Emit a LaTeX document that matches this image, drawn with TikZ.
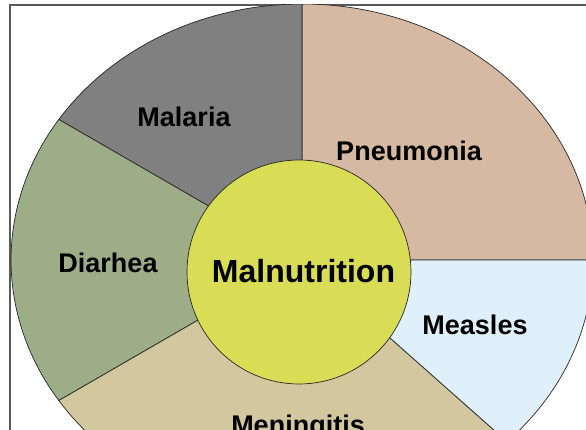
\documentclass[tikz,border=0pt]{standalone}
\usepackage{fontspec}
\setmainfont{Liberation Sans}
\definecolor{pneumoniaC}{HTML}{D5B9A2}
\definecolor{malariaC}{HTML}{808080}
\definecolor{diarheaC}{HTML}{9CAD87}
\definecolor{meningitisC}{HTML}{D2C79E}
\definecolor{measlesC}{HTML}{E0F0FA}
\definecolor{coreC}{HTML}{D9DC55}
\definecolor{frameC}{HTML}{5A5A5A}
\begin{document}
\begin{tikzpicture}[x=1pt,y=1pt,
  sector/.style={draw=black!85, line width=0.7pt},
  lbl/.style={font=\bfseries\fontsize{27}{30}\selectfont, anchor=base, inner sep=0pt},
  corelbl/.style={font=\bfseries\fontsize{32}{36}\selectfont, anchor=base, inner sep=0pt}]
  \useasboundingbox (0,0) rectangle (586,430);
  \clip (0,0) rectangle (586,430);
  \fill[white] (0,0) rectangle (586,430);
  % outer frame
  \draw[frameC, line width=1.3pt] (10,-20) -- (10,425) -- (620,425);
  \begin{scope}
    \clip (10,-20) rectangle (620,425);
    \coordinate (C) at (302,170);
    % sectors of the outer ellipse
    \filldraw[sector, fill=pneumoniaC] (C) -- ++(0:291pt and 256pt)
      arc[start angle=0, end angle=90, x radius=291pt, y radius=256pt] -- cycle;
    \filldraw[sector, fill=malariaC] (C) -- ++(90:291pt and 256pt)
      arc[start angle=90, end angle=146.7, x radius=291pt, y radius=256pt] -- cycle;
    \filldraw[sector, fill=diarheaC] (C) -- ++(146.7:291pt and 256pt)
      arc[start angle=146.7, end angle=213.3, x radius=291pt, y radius=256pt] -- cycle;
    \filldraw[sector, fill=meningitisC] (C) -- ++(213.3:291pt and 256pt)
      arc[start angle=213.3, end angle=314.8, x radius=291pt, y radius=256pt] -- cycle;
    \filldraw[sector, fill=measlesC] (C) -- ++(314.8:291pt and 256pt)
      arc[start angle=314.8, end angle=360, x radius=291pt, y radius=256pt] -- cycle;
  \end{scope}
  % central circle
  \node[circle, draw=black!85, line width=0.7pt, fill=coreC, minimum size=224pt, inner sep=0pt] (ring) at (299,158) {};
  \node[corelbl] (core) at (303.5,147) {Malnutrition};
  % sector labels
  \node[lbl] (malaria) at (184,303) {Malaria};
  \node[lbl] (pneumonia) at (409,269) {Pneumonia};
  \node[lbl] (diarhea) at (108,157) {Diarhea};
  \node[lbl] (measles) at (475,95) {Measles};
  \node[lbl] (meningitis) at (298,-4.5) {Meningitis};
\end{tikzpicture}
\end{document}
